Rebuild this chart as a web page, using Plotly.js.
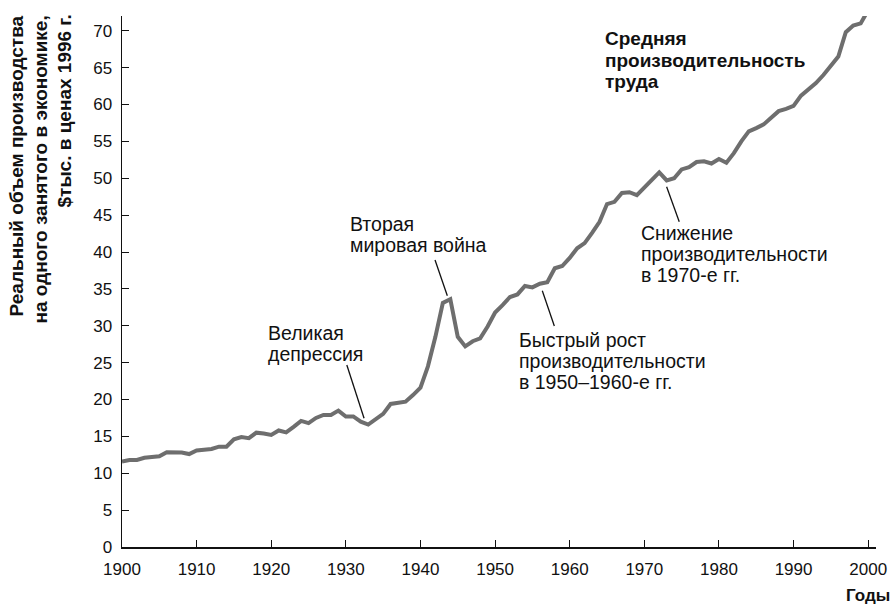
<!DOCTYPE html>
<html>
<head>
<meta charset="utf-8">
<script src="https://cdn.plot.ly/plotly-3.0.1.min.js"></script>
<style>html,body{margin:0;padding:0;background:#fff;}#chart{width:892px;height:608px;}</style>
</head>
<body>
<div id="chart"></div>
<script>
var years = [1900,1901,1902,1903,1904,1905,1906,1907,1908,1909,
1910,1911,1912,1913,1914,1915,1916,1917,1918,1919,
1920,1921,1922,1923,1924,1925,1926,1927,1928,1929,
1930,1931,1932,1933,1934,1935,1936,1937,1938,1939,
1940,1941,1942,1943,1944,1945,1946,1947,1948,1949,
1950,1951,1952,1953,1954,1955,1956,1957,1958,1959,
1960,1961,1962,1963,1964,1965,1966,1967,1968,1969,
1970,1971,1972,1973,1974,1975,1976,1977,1978,1979,
1980,1981,1982,1983,1984,1985,1986,1987,1988,1989,
1990,1991,1992,1993,1994,1995,1996,1997,1998,1999,2000];

var productivity = [11.6,11.8,11.8,12.1,12.2,12.3,12.85,12.85,12.8,12.6,
13.1,13.2,13.3,13.6,13.6,14.6,14.9,14.75,15.5,15.4,
15.2,15.8,15.55,16.3,17.1,16.8,17.5,17.9,17.9,18.5,
17.7,17.7,17.0,16.6,17.3,18.05,19.4,19.6,19.7,20.6,
21.6,24.5,28.5,33.1,33.6,28.5,27.2,27.9,28.3,29.9,
31.8,32.8,33.9,34.25,35.4,35.2,35.7,35.9,37.8,38.1,
39.2,40.5,41.2,42.6,44.1,46.5,46.8,48.0,48.1,47.7,
48.8,49.7,50.8,49.7,50.0,51.2,51.5,52.2,52.3,52.0,
52.6,52.1,53.4,55.0,56.35,56.8,57.3,58.2,59.1,59.4,
59.8,61.2,62.1,62.9,64.0,65.3,66.5,69.8,70.7,71.0,72.8];

var xTicks = [1900,1910,1920,1930,1940,1950,1960,1970,1980,1990,2000];
var yTicks = [0,5,10,15,20,25,30,35,40,45,50,55,60,65,70];

var yTitleLines = ["Реальный объем производства", "на одного занятого в экономике,", "$тыс. в ценах 1996 г."];
var xTitle = "Годы";
var seriesLabel = ["Средняя", "производительность", "труда"];

var notes = [
  {lines: ["Великая", "депрессия"], x: 1919.3, y: 30.71, from: [1930.13, 24.68], to: [1932.44, 17.45]},
  {lines: ["Вторая", "мировая война"], x: 1930.35, y: 45.49, from: [1941.95, 38.92], to: [1943.6, 34.07]},
  {lines: ["Быстрый рост", "производительности", "в 1950–1960-е гг."], x: 1952.95, y: 29.76, from: [1956.33, 34.75], to: [1957.94, 29.97]},
  {lines: ["Снижение", "производительности", "в 1970-е гг."], x: 1969.35, y: 44.14, from: [1972.99, 48.85], to: [1974.68, 44.11]}
];

var FONT = "Liberation Sans, Arial, Helvetica, sans-serif";
var NOTE_SIZE = 19.5, NOTE_GAP = 21;

var trace = {
  x: years, y: productivity, type: 'scatter', mode: 'lines',
  line: {color: '#6e6e6e', width: 4, shape: 'linear'},
  cliponaxis: false, hoverinfo: 'skip', showlegend: false
};

var annotations = [];
var shapes = [];
notes.forEach(function(n){
  n.lines.forEach(function(line, i){
    annotations.push({
      xref: 'x', yref: 'y', x: n.x, y: n.y, yshift: -i * NOTE_GAP + 1, xanchor: 'left', yanchor: 'top',
      text: line, align: 'left', showarrow: false,
      font: {family: FONT, size: NOTE_SIZE, color: '#111'}
    });
  });
  shapes.push({
    type: 'line', xref: 'x', yref: 'y',
    x0: n.from[0], y0: n.from[1], x1: n.to[0], y1: n.to[1],
    line: {color: '#111', width: 1.3}
  });
});

seriesLabel.forEach(function(line, i){
  annotations.push({
    xref: 'x', yref: 'y', x: 1964.45, y: 70.64, yshift: -i * 21.7, xanchor: 'left', yanchor: 'top',
    text: '<b>' + line + '</b>', align: 'left', showarrow: false,
    font: {family: FONT, size: 19, color: '#111'}
  });
});

var yTitleX = [-0.1393, -0.1081, -0.0769];
yTitleLines.forEach(function(line, i){
  annotations.push({
    xref: 'paper', yref: 'paper', x: yTitleX[i], y: 1.0057, xanchor: 'center', yanchor: 'top',
    text: '<b>' + line + '</b>', textangle: -90, showarrow: false,
    font: {family: FONT, size: 19, color: '#111'}
  });
});

annotations.push({
  xref: 'paper', yref: 'paper', x: 1.0212, y: -0.113, xanchor: 'right', yanchor: 'bottom',
  text: '<b>' + xTitle + '</b>', showarrow: false,
  font: {family: FONT, size: 17, color: '#111'}
});

var layout = {
  width: 892, height: 608,
  margin: {l: 122, r: 16, t: 16, b: 61, pad: 0},
  paper_bgcolor: '#fff', plot_bgcolor: '#fff',
  font: {family: FONT, size: 17, color: '#111'},
  xaxis: {
    range: [1900, 2001.05], tickmode: 'array', tickvals: xTicks, ticktext: xTicks.map(String),
    showgrid: false, zeroline: false, showline: true, linecolor: '#111', linewidth: 1.5,
    ticks: 'inside', ticklen: 7, tickwidth: 1, tickcolor: '#111',
    tickfont: {family: FONT, size: 17, color: '#111'}, ticklabelstandoff: 6
  },
  yaxis: {
    range: [0, 72], tickmode: 'array', tickvals: yTicks, ticktext: yTicks.map(String),
    showgrid: false, zeroline: false, showline: true, linecolor: '#111', linewidth: 1.5,
    ticks: 'inside', ticklen: 7, tickwidth: 1, tickcolor: '#111',
    tickfont: {family: FONT, size: 17, color: '#111'}, ticklabelstandoff: 5
  },
  annotations: annotations,
  shapes: shapes
};

Plotly.newPlot('chart', [trace], layout, {displayModeBar: false, staticPlot: true});
</script>
</body>
</html>
